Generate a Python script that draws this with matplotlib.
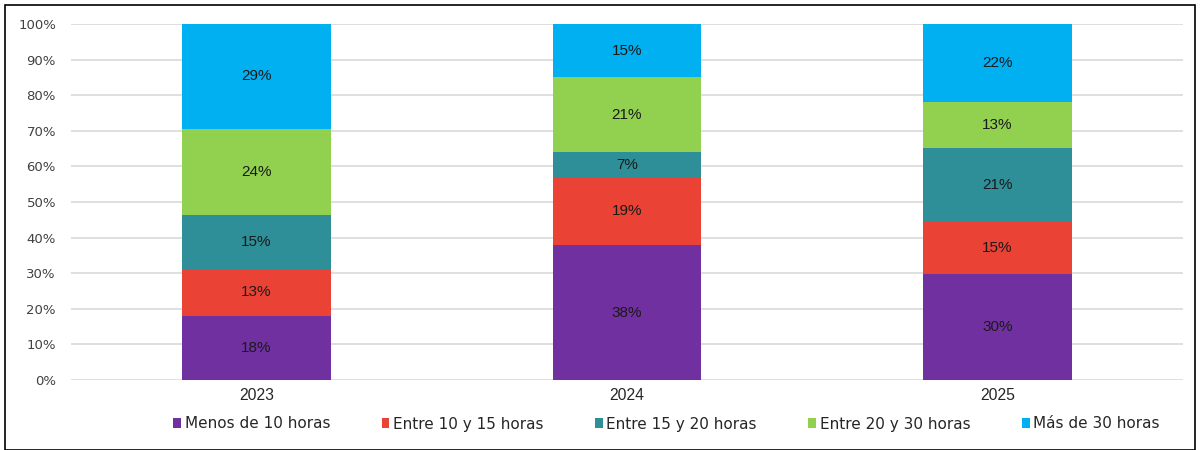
import matplotlib
matplotlib.use("Agg")
import matplotlib.pyplot as plt
from matplotlib.patches import Rectangle
import numpy as np

plt.rcParams['font.family'] = ['Liberation Sans', 'DejaVu Sans']

years = ["2023", "2024", "2025"]
series_names = ["Menos de 10 horas", "Entre 10 y 15 horas", "Entre 15 y 20 horas",
                "Entre 20 y 30 horas", "Más de 30 horas"]
menos_10 = [18.1, 37.9, 29.7]
entre_10_15 = [13.1, 18.9, 14.8]
entre_15_20 = [15.2, 7.2, 20.8]
entre_20_30 = [24.2, 21.0, 12.8]
mas_30 = [29.4, 15.0, 21.9]
labels = [["18%", "38%", "30%"], ["13%", "19%", "15%"], ["15%", "7%", "21%"],
          ["24%", "21%", "13%"], ["29%", "15%", "22%"]]
colors = ["#7030A0", "#EA4335", "#2E8F99", "#92D050", "#00B0F0"]

data = [menos_10, entre_10_15, entre_15_20, entre_20_30, mas_30]

fig = plt.figure(figsize=(12.01, 4.5), dpi=100)
fig.patches.append(Rectangle((0.004, 0.0), 0.991, 0.99, transform=fig.transFigure,
                             fill=False, edgecolor="black", linewidth=1.2, zorder=10))
ax = fig.add_axes([71.25 / 1201, 1 - 380 / 450, 1111.5 / 1201, 356 / 450])

x = np.arange(len(years))
bottom = np.zeros(len(years))
for vals, lab, col, name in zip(data, labels, colors, series_names):
    vals = np.array(vals)
    ax.bar(x, vals, bottom=bottom, width=0.4, color=col, label=name, zorder=3)
    for xi, v, b, t in zip(x, vals, bottom, lab):
        ax.text(xi, b + v / 2, t, ha="center", va="center", fontsize=11,
                family="Liberation Sans", color="#1a1a1a", zorder=4)
    bottom += vals

ax.set_xlim(-0.5, 2.5)
ax.set_ylim(0, 100)
ax.set_yticks(np.arange(0, 101, 10))
ax.set_yticklabels([f"{v}%" for v in range(0, 101, 10)], fontsize=9.5,
                   family="DejaVu Sans", color="#404040")
ax.set_xticks(x)
ax.set_xticklabels(years, fontsize=11.3, family="Liberation Sans", color="#262626")
ax.tick_params(axis="both", length=0)
ax.tick_params(axis="y", pad=11)
ax.tick_params(axis="x", pad=6)
ax.grid(axis="y", color="#D9D9D9", linewidth=1.2, zorder=0)
for s in ax.spines.values():
    s.set_visible(False)

handles, lbls = ax.get_legend_handles_labels()
leg = fig.legend(handles, lbls, loc="center", bbox_to_anchor=(0.555, 1 - 424 / 450), ncol=5,
                 frameon=False, prop={"family": "DejaVu Sans", "size": 11},
                 handlelength=0.5, handleheight=0.65,
                 handletextpad=0.25, columnspacing=3.37, labelcolor="#262626")

fig.savefig("out.png", dpi=100)
